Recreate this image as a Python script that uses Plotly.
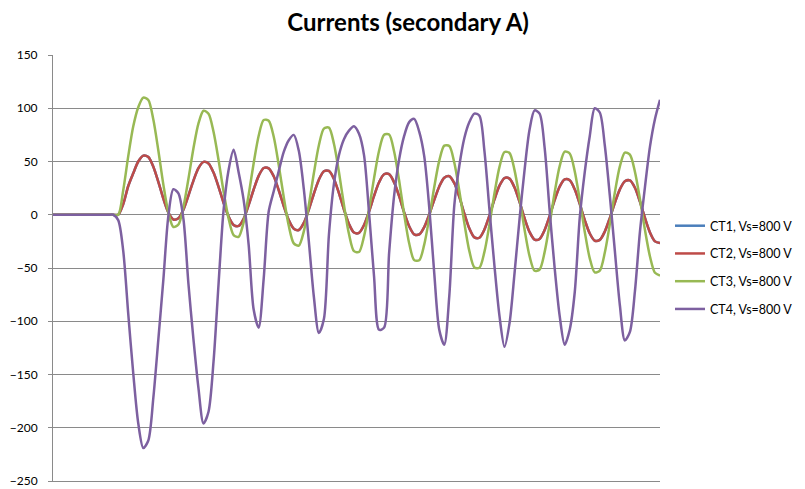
import plotly.graph_objects as go

# sample index along the (unlabelled) time axis
samples = list(range(122))

pre_fault = [0] * 13

ct2 = pre_fault + [
    0, 10, 27, 39, 50, 55.5, 54.2, 45.1, 30.8, 15.1, 2.1, -4.5, -3.3, 4.8, 18, 32.1, 43.7, 49.6,
    48.2, 39.6, 26.2, 11.2, -1.7, -9.6, -10.5, -3.8, 9, 23.7, 36.5, 43.9, 43.6, 36.1, 23, 8.2,
    -5, -13.1, -14.3, -7.6, 4.9, 19.7, 32.9, 40.8, 41.1, 33.6, 20.3, 4.9, -8.7, -16.7, -17, -9.7,
    3, 17.7, 30.5, 38, 38.1, 30.4, 17.4, 2.2, -10.8, -18.4, -18.5, -11.6, 0.2, 14, 26.6, 34.7,
    36.2, 29.7, 16.7, 1, -13, -21.3, -21.6, -13.9, -0.7, 14.4, 27.3, 34.5, 33.9, 25.6, 12.1,
    -3.3, -16.2, -23.3, -22.7, -14.4, -1.1, 13.8, 26.4, 33.2, 32.4, 23.9, 10.2, -5, -17.6,
    -24.4, -23.6, -15.7, -3.1, 11.2, 23.8, 31.4, 32.2, 25.4, 12.3, -3, -16.6, -25, -26.5,
]

# CT1 coincides with CT2 (hidden underneath it in the chart)
ct1 = list(ct2)

ct3 = pre_fault + [
    0, 23, 55, 83, 101, 110, 107.8, 89.4, 60.3, 28.3, 2, -11.5, -9.2, 7.3, 33.8, 62.4, 85.8, 97.7,
    94.9, 77.9, 51.4, 21.9, -3.5, -19.1, -20.7, -7.2, 18.6, 48.4, 74.2, 89, 88.3, 73.2, 46.6,
    16.4, -10.4, -26.9, -29, -15.6, 9.3, 38.9, 65.2, 80.9, 81.8, 66.7, 40.1, 9.1, -18.1, -34.2,
    -35, -20.3, 5, 34.4, 60.1, 75.1, 75.4, 59.4, 32.1, 0.5, -26.8, -42.6, -42.8, -28, -2.9, 26,
    50.8, 64.9, 64.5, 48.8, 22.4, -7.9, -34.2, -49.5, -49.8, -34.9, -9.3, 19.9, 44.9, 58.9, 58,
    41.9, 15.7, -13.9, -38.9, -52.6, -51.4, -35.1, -8.7, 20.9, 45.7, 59.2, 57.5, 40.9, 13.9,
    -15.9, -40.9, -54.2, -52.4, -35.5, -8.8, 20.9, 45.4, 58.4, 56.4, 40.4, 14.8, -14.2, -39.2,
    -54.5, -57,
]

ct4 = pre_fault + [
    -5, -34, -93, -149, -196, -219, -212, -172, -117, -61, -1, 24, 20, -4, -65, -117, -163, -196,
    -185, -138, -65, 4, 42, 61, 40, 14, -28, -89, -106, -60, 3, 22, 41, 59, 70, 75, 60, 24, -25,
    -77, -111, -98, -19, 29, 56, 71, 79, 83, 76, 56, 2, -58, -108, -106, -36, 18, 52, 74, 87, 90,
    78, 55, 7, -55, -108, -122, -76, 9, 46, 72, 87, 95, 93, 60, 5, -48, -95, -124, -102, -55, -4,
    42, 80, 98, 95, 63, 4, -50, -95, -122, -108, -73, -3, 40, 74, 100, 96, 65, 18, -34, -85,
    -118, -110, -72, -16, 26, 64, 90, 108,
]

series_names = ["CT1, Vs=800 V", "CT2, Vs=800 V", "CT3, Vs=800 V", "CT4, Vs=800 V"]
series_values = [ct1, ct2, ct3, ct4]
series_colors = ["#4A7EBB", "#BE4B48", "#98B954", "#7D60A0"]

y_ticks = [-250, -200, -150, -100, -50, 0, 50, 100, 150]

fig = go.Figure()
for name, vals, col in zip(series_names, series_values, series_colors):
    fig.add_trace(go.Scatter(
        x=samples, y=vals, mode="lines", name=name, legendgroup=name,
        line=dict(color=col, width=2.5, shape="spline", smoothing=0.8),
    ))

grid = "#8A8A8A"
# the page body adds an 8 px offset, so the figure is 8 px smaller than the window
fig.update_layout(
    width=797, height=481,
    margin=dict(l=45, r=145, t=47, b=8, autoexpand=False),
    paper_bgcolor="white", plot_bgcolor="white",
    font=dict(family="Lato, Carlito, sans-serif", color="#000000", size=12),
    title=dict(text="<b>Currents (secondary A)</b>", x=0.502, xanchor="center",
               y=0.988, yanchor="top", font=dict(size=24, family="Lato, sans-serif")),
    showlegend=True,
    legend=dict(x=1.0165, xanchor="left", y=0.501, yanchor="middle",
                font=dict(size=12.5, family="Lato, sans-serif"),
                tracegroupgap=8.5, bgcolor="rgba(0,0,0,0)"),
    xaxis=dict(range=[0, 121], showticklabels=False, showgrid=False, zeroline=False,
               showline=True, linecolor=grid, linewidth=1, ticks=""),
    yaxis=dict(range=[-250, 150], tickvals=y_ticks, showgrid=True, gridcolor=grid,
               gridwidth=1, zeroline=False, showline=True, linecolor=grid, linewidth=1,
               ticks="outside", ticklen=4, tickcolor=grid, ticklabelstandoff=8,
               tickfont=dict(size=12, family="Lato, sans-serif")),
)

fig.write_html("out.html")
